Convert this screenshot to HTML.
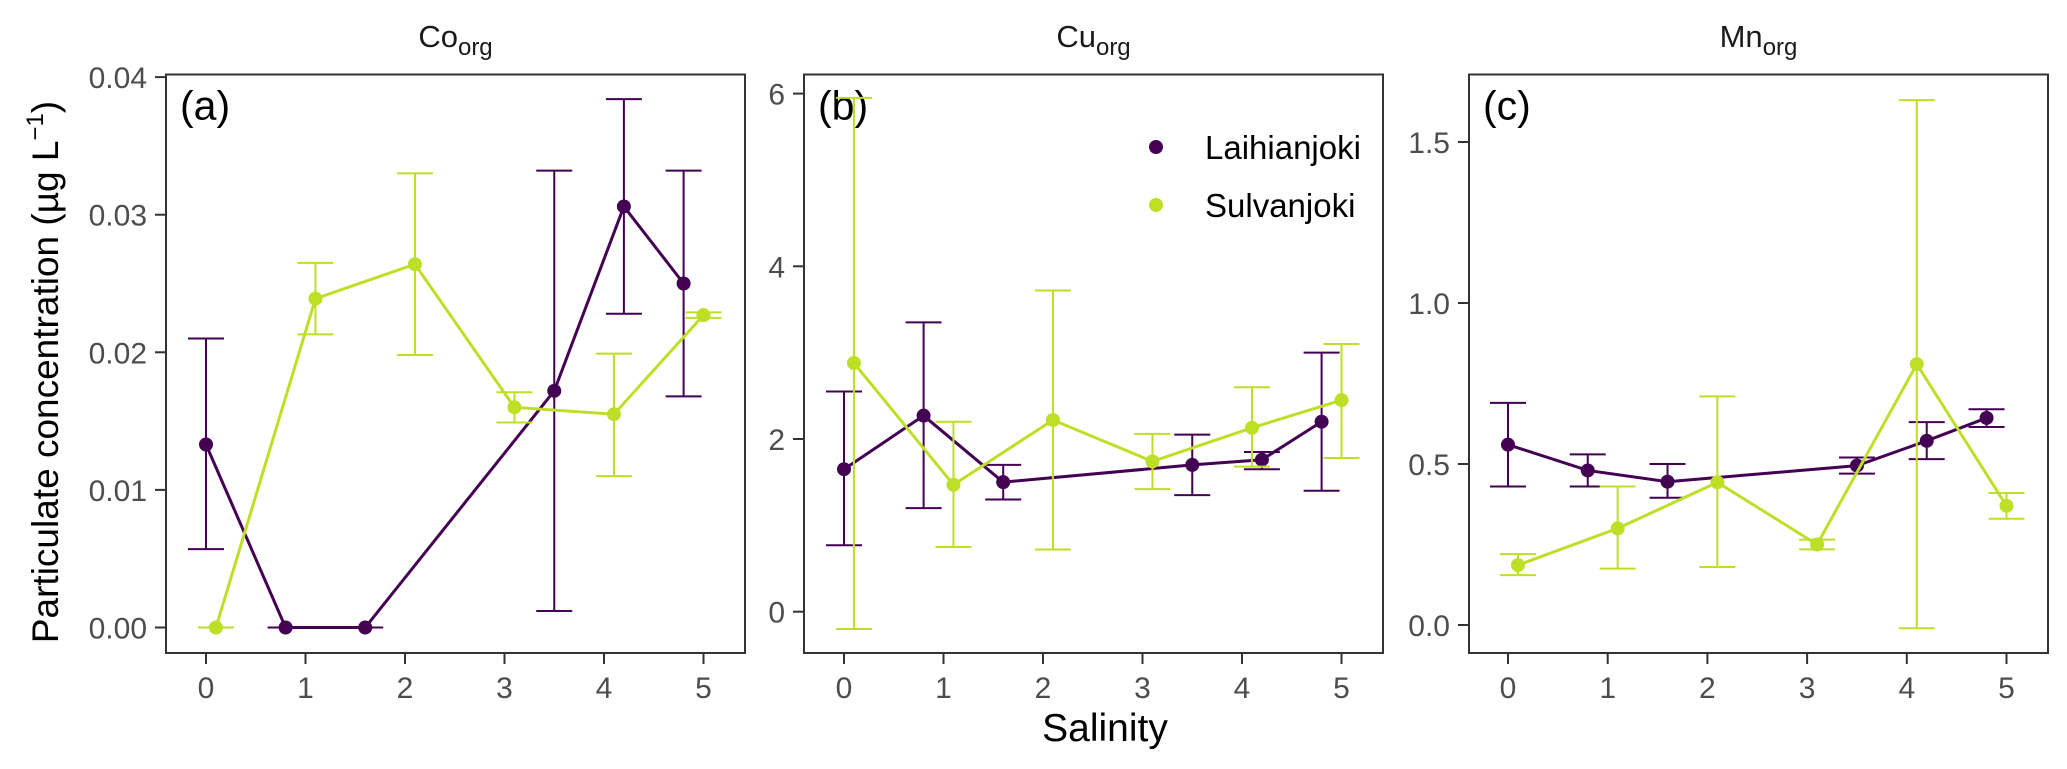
<!DOCTYPE html>
<html><head><meta charset="utf-8">
<style>
html,body{margin:0;padding:0;background:#fff;}
svg{display:block;font-family:"Liberation Sans",sans-serif;}
</style></head>
<body>
<svg id="chart" width="2067" height="769" viewBox="0 0 2067 769" xmlns="http://www.w3.org/2000/svg">
<text transform="translate(58,372) rotate(-90)" text-anchor="middle" font-size="37" fill="#000">Particulate concentration (µg L<tspan dy="-15" font-size="24">−1</tspan><tspan dy="15">)</tspan></text>
<text x="1105" y="741" text-anchor="middle" font-size="39" fill="#000">Salinity</text>
<g id="panels"></g>
</svg>
<script>
// shared categories
const xTicks = [0,1,2,3,4,5];
const laiX = [0,0.8,1.6,3.5,4.2,4.8];
const sulX = [0.1,1.1,2.1,3.1,4.1,5.0];
// panel a: Co
const coLai = [0.0133,0,0,0.0172,0.0306,0.025];
const coLaiHi = [0.021,0,0,0.0332,0.0384,0.0332];
const coLaiLo = [0.0057,0,0,0.0012,0.0228,0.0168];
const coSul = [0,0.0239,0.0264,0.016,0.0155,0.0227];
const coSulHi = [0,0.0265,0.033,0.0171,0.0199,0.0229];
const coSulLo = [0,0.0213,0.0198,0.0149,0.011,0.0225];
const coTicks = [0,0.01,0.02,0.03,0.04];
const coTickLabels = ["0.00","0.01","0.02","0.03","0.04"];
// panel b: Cu
const cuLai = [1.65,2.27,1.5,1.7,1.76,2.2];
const cuLaiHi = [2.55,3.35,1.7,2.05,1.85,3.0];
const cuLaiLo = [0.77,1.2,1.3,1.35,1.65,1.4];
const cuSul = [2.88,1.47,2.22,1.74,2.13,2.45];
const cuSulHi = [5.95,2.2,3.72,2.06,2.6,3.1];
const cuSulLo = [-0.2,0.75,0.72,1.42,1.68,1.78];
const cuTicks = [0,2,4,6];
const cuTickLabels = ["0","2","4","6"];
// panel c: Mn
const mnLai = [0.56,0.48,0.445,0.495,0.572,0.643];
const mnLaiHi = [0.69,0.53,0.5,0.52,0.63,0.67];
const mnLaiLo = [0.43,0.43,0.395,0.47,0.515,0.615];
const mnSul = [0.186,0.30,0.443,0.25,0.81,0.37];
const mnSulHi = [0.22,0.43,0.71,0.265,1.63,0.41];
const mnSulLo = [0.155,0.175,0.18,0.235,-0.01,0.33];
const mnTicks = [0,0.5,1.0,1.5];
const mnTickLabels = ["0.0","0.5","1.0","1.5"];

const NS="http://www.w3.org/2000/svg";
const DARK="#440154", GREEN="#bddf26";
const root=document.getElementById('panels');
function mk(tag,attrs,parent){const e=document.createElementNS(NS,tag);for(const k in attrs)e.setAttribute(k,attrs[k]);(parent||root).appendChild(e);return e;}

const panels=[
 {key:'co',title:'Co',tag:'(a)',left:166,right:745,x0:206,xs:99.5,y0v:0,y0p:627.5,ys:13760,ticks:coTicks,labels:coTickLabels,
  lai:[coLai,coLaiHi,coLaiLo],sul:[coSul,coSulHi,coSulLo]},
 {key:'cu',title:'Cu',tag:'(b)',left:804,right:1383,x0:844,xs:99.5,y0v:0,y0p:611.7,ys:86.35,ticks:cuTicks,labels:cuTickLabels,
  lai:[cuLai,cuLaiHi,cuLaiLo],sul:[cuSul,cuSulHi,cuSulLo],legend:true},
 {key:'mn',title:'Mn',tag:'(c)',left:1469,right:2048,x0:1508,xs:99.7,y0v:0,y0p:625,ys:322,ticks:mnTicks,labels:mnTickLabels,
  lai:[mnLai,mnLaiHi,mnLaiLo],sul:[mnSul,mnSulHi,mnSulLo]}
];
const TOP=74.5,BOT=653;
panels.forEach(p=>{
 const g=mk('g',{});
 
 
 const X=v=>p.x0+v*p.xs, Y=v=>p.y0p-(v-p.y0v)*p.ys;
 const t=mk('text',{x:(p.left+p.right)/2,y:47,'text-anchor':'middle','font-size':'31',fill:'#1a1a1a'},g);
 
 
 t.textContent=p.title;
 const ts=mk('tspan',{dy:'8','font-size':'24'},t); ts.textContent='org';
 p.ticks.forEach((v,i)=>{
  mk('line',{x1:p.left-11,x2:p.left,y1:Y(v),y2:Y(v),stroke:'#333','stroke-width':2},g);
  const l=mk('text',{x:p.left-19,y:Y(v)+11,'text-anchor':'end','font-size':'30',fill:'#4d4d4d'},g);
  
  
  l.textContent=p.labels[i];
 });
 xTicks.forEach(v=>{
  mk('line',{x1:X(v),x2:X(v),y1:BOT,y2:BOT+11,stroke:'#333','stroke-width':2},g);
  const l=mk('text',{x:X(v),y:BOT+45,'text-anchor':'middle','font-size':'30',fill:'#4d4d4d'},g);
  
  
  l.textContent=v;
 });
 const fr=mk('rect',{x:p.left,y:TOP,width:p.right-p.left,height:BOT-TOP,fill:'none',stroke:'#333','stroke-width':2},g);
 
 
 const tg=mk('text',{x:p.left+14,y:TOP+45,'font-size':'41',fill:'#000'},g);
 
 
 tg.textContent=p.tag;
 [[laiX,p.lai,DARK,'laihianjoki'],[sulX,p.sul,GREEN,'sulvanjoki']].forEach(([xs,arr,col,nm])=>{
  const [vals,hi,lo]=arr;
  xs.forEach((x,i)=>{
   const eb=mk('path',{d:`M${X(x)-18},${Y(hi[i])}H${X(x)+18}M${X(x)},${Y(hi[i])}V${Y(lo[i])}M${X(x)-18},${Y(lo[i])}H${X(x)+18}`,stroke:col,'stroke-width':2,fill:'none'},g);
   
   
  });
  const ln=mk('polyline',{points:xs.map((x,i)=>X(x)+','+Y(vals[i])).join(' '),stroke:col,'stroke-width':3,fill:'none'},g);
  
  
  xs.forEach((x,i)=>{
   const c=mk('circle',{cx:X(x),cy:Y(vals[i]),r:7,fill:col},g);
   
   
  });
 });
 if(p.legend){
  [['Laihianjoki',DARK,147],['Sulvanjoki',GREEN,205]].forEach(([name,col,y])=>{
   const lg=mk('g',{},g);
   
   
   mk('circle',{cx:1156,cy:y,r:7,fill:col},lg);
   const lt=mk('text',{x:1205,y:y+12,'font-size':'33',fill:'#000'},lg);
   lt.textContent=name;
  });
 }
});
</script>
</body></html>
